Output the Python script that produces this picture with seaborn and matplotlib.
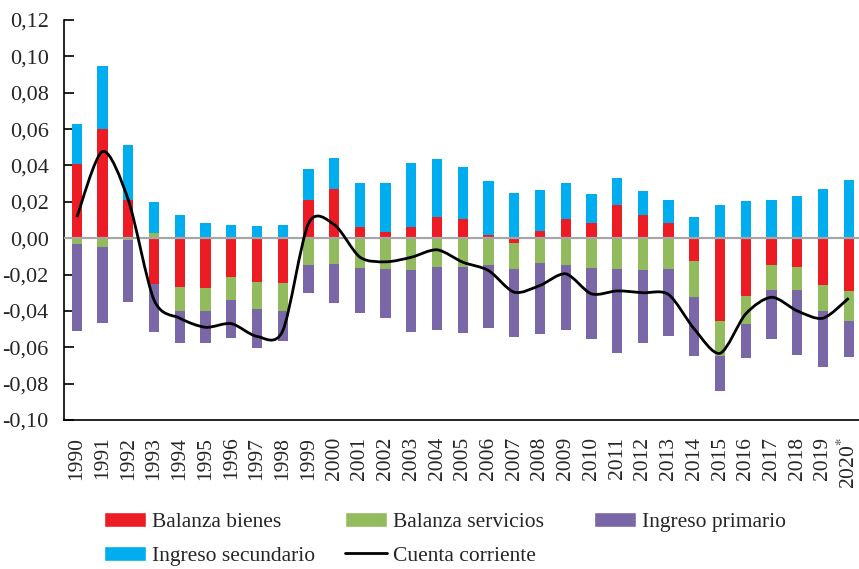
import numpy as np
import pandas as pd
import seaborn as sns
import matplotlib.pyplot as plt
from matplotlib.path import Path
from matplotlib.patches import PathPatch, Patch
from matplotlib.lines import Line2D


# --- Data (share of GDP) ---
years = [str(y) for y in range(1990, 2021)]

bienes = [0.041, 0.060, 0.021, -0.025, -0.027, -0.0275, -0.0215, -0.024, -0.0245,
          0.021, 0.027, 0.0063, 0.0033, 0.0063, 0.0114, 0.0108, 0.002, -0.0025,
          0.0039, 0.0108, 0.0081, 0.018, 0.013, 0.0081, -0.0123, -0.0458, -0.032,
          -0.0145, -0.0156, -0.026, -0.029]
servicios = [-0.003, -0.0046, -0.001, 0.003, -0.013, -0.0125, -0.0126, -0.015, -0.0153,
             -0.0145, -0.014, -0.0163, -0.017, -0.0176, -0.0156, -0.016, -0.0145, -0.0145,
             -0.0138, -0.0145, -0.0163, -0.017, -0.0176, -0.017, -0.0202, -0.019, -0.015,
             -0.014, -0.013, -0.0138, -0.0168]
primario = [-0.048, -0.042, -0.034, -0.0266, -0.0176, -0.0176, -0.021, -0.0215, -0.017,
            -0.0155, -0.0217, -0.0247, -0.0268, -0.034, -0.0348, -0.036, -0.035, -0.0375,
            -0.039, -0.036, -0.039, -0.046, -0.040, -0.037, -0.0325, -0.0193, -0.019,
            -0.027, -0.0356, -0.031, -0.0195]
secundario = [0.022, 0.0345, 0.030, 0.017, 0.013, 0.0085, 0.0072, 0.0066, 0.0075,
              0.017, 0.017, 0.0238, 0.0272, 0.035, 0.032, 0.0282, 0.0294, 0.025,
              0.0225, 0.0197, 0.0163, 0.0152, 0.0132, 0.013, 0.0119, 0.0184, 0.0207,
              0.0211, 0.023, 0.0268, 0.0321]
cuenta = [0.0116, 0.0477, 0.021, -0.034, -0.044, -0.049, -0.047, -0.054, -0.051,
          0.008, 0.0075, -0.0104, -0.013, -0.0105, -0.0064, -0.0132, -0.0178, -0.0297,
          -0.026, -0.0196, -0.0306, -0.029, -0.030, -0.031, -0.050, -0.0633, -0.0416,
          -0.0325, -0.040, -0.044, -0.033]

tick_labels = years[:-1] + ['2020$^{*}$']

series = ['Balanza bienes', 'Balanza servicios', 'Ingreso primario', 'Ingreso secundario']
colors = {'Balanza bienes': '#ED1C24', 'Balanza servicios': '#92BB5E',
          'Ingreso primario': '#7A67A7', 'Ingreso secundario': '#00AEEF'}

df = pd.DataFrame({'year': years, 'Balanza bienes': bienes,
                   'Balanza servicios': servicios, 'Ingreso primario': primario,
                   'Ingreso secundario': secundario})

# cumulative stacks, positives and negatives kept apart
pos = df[series].clip(lower=0).cumsum(axis=1)
neg = df[series].clip(upper=0).cumsum(axis=1)

# --- Style ---
sns.set_style('white')
plt.rcParams['font.family'] = ['Liberation Serif', 'DejaVu Serif']
plt.rcParams['mathtext.fontset'] = 'stix'

W, H = 859, 569
fig = plt.figure(figsize=(W / 100, H / 100), dpi=100)
ax = fig.add_axes([64 / W, 149 / H, 795 / W, 400 / H])

# draw the tallest cumulative layer first, then overlay the shorter ones
for stack in (pos, neg):
    for s in reversed(series):
        sns.barplot(x=df['year'], y=stack[s], order=years, color=colors[s],
                    saturation=1, width=0.4, linewidth=0, errorbar=None, ax=ax)

ax.axhline(0, color='#A6A6A6', lw=1.6, zorder=3)

# smoothed line (bezier through the yearly points)
xs = np.arange(len(cuenta), dtype=float)
pts = np.column_stack([xs, np.array(cuenta)])
ext = np.vstack([pts[0], pts, pts[-1]])
verts = [tuple(pts[0])]
codes = [Path.MOVETO]
k = 1 / 7
for i in range(len(pts) - 1):
    p0, p1, p2, p3 = ext[i], ext[i + 1], ext[i + 2], ext[i + 3]
    verts += [tuple(p1 + (p2 - p0) * k), tuple(p2 - (p3 - p1) * k), tuple(p2)]
    codes += [Path.CURVE4] * 3
ax.add_patch(PathPatch(Path(verts, codes), fill=False, edgecolor='black', lw=2, zorder=4))

# --- Axes ---
ax.set_xlim(-0.5, 30.4)
ax.set_ylim(-0.10, 0.12)
yt = np.arange(-0.10, 0.121, 0.02)
ax.set_yticks(yt)
ax.set_yticklabels([f'{v:.2f}'.replace('.', ',').replace('-0,00', '0,00') for v in yt])
ax.set_xticks(range(len(years)))
ax.set_xticklabels(tick_labels, rotation=90)
ax.set_xlabel('')
ax.set_ylabel('')

ax.tick_params(axis='y', direction='in', length=7, width=1.2, color='black',
               labelsize=16, pad=11, left=True)
ax.tick_params(axis='x', length=0, labelsize=15.5, pad=12)

for side in ['top', 'right']:
    ax.spines[side].set_visible(False)
for side in ['left', 'bottom']:
    ax.spines[side].set_color('black')
    ax.spines[side].set_linewidth(1.2)

# --- Legend: one legend per column so the columns sit where they do in the source ---
h = {s: Patch(facecolor=colors[s]) for s in series}
line_h = Line2D([0], [0], color='black', lw=2)
columns = [
    (104, [h['Balanza bienes'], h['Ingreso secundario']], ['Balanza bienes', 'Ingreso secundario']),
    (345, [h['Balanza servicios'], line_h], ['Balanza servicios', 'Cuenta corriente']),
    (594, [h['Ingreso primario']], ['Ingreso primario']),
]
for x0, hs, ls in columns:
    fig.legend(hs, ls, loc='upper left', bbox_to_anchor=(x0 / W, 1 - 512 / H),
               frameon=False, fontsize=15.5, handlelength=1.95, handleheight=0.73,
               handletextpad=0.27, labelspacing=0.62, borderpad=0, borderaxespad=0)

fig.savefig('out.png', dpi=100)
